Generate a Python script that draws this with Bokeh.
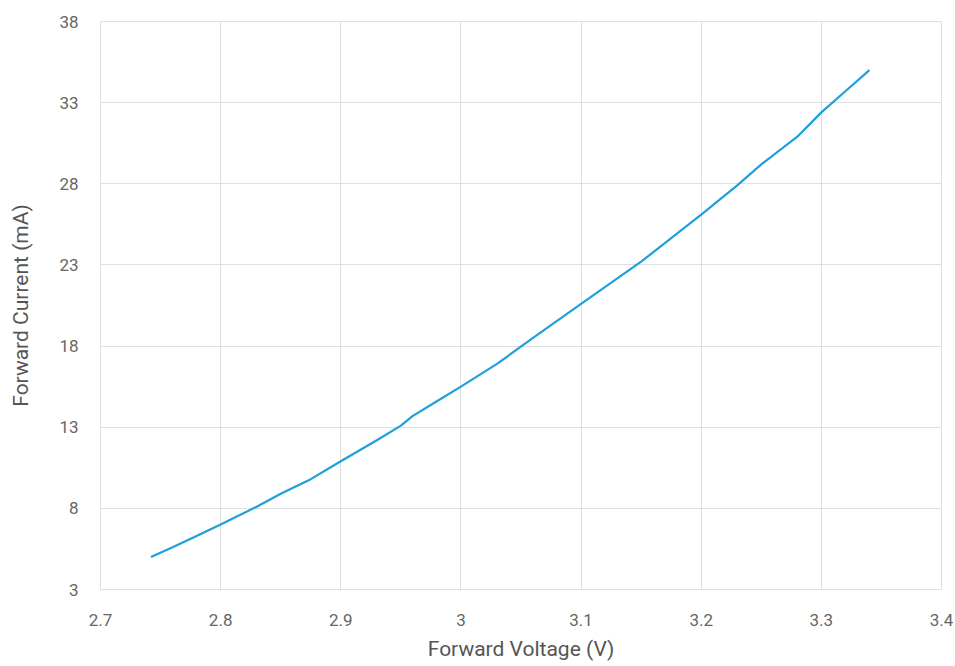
from bokeh.plotting import figure
from bokeh.models import FixedTicker, CustomJSTickFormatter, Range1d
from bokeh.embed import file_html
from bokeh.resources import INLINE

voltage = [2.742, 2.76, 2.78, 2.80, 2.83, 2.85, 2.875, 2.90, 2.93, 2.95, 2.96, 2.98,
           3.00, 3.03, 3.06, 3.10, 3.15, 3.20, 3.23, 3.25, 3.28, 3.30, 3.32, 3.34]
current = [5.0, 5.6, 6.3, 7.0, 8.1, 8.9, 9.8, 10.9, 12.2, 13.1, 13.7, 14.6,
           15.5, 16.9, 18.5, 20.6, 23.2, 26.1, 27.9, 29.2, 30.9, 32.4, 33.7, 35.0]
x_ticks = [2.7, 2.8, 2.9, 3.0, 3.1, 3.2, 3.3, 3.4]
y_ticks = [3, 8, 13, 18, 23, 28, 33, 38]

p = figure(width=953, height=666, output_backend="svg", toolbar_location=None,
           x_range=Range1d(2.7, 3.4), y_range=Range1d(3, 38),
           min_border_left=100, min_border_right=12, min_border_top=21, min_border_bottom=77)

p.line(voltage, current, line_color="#1f9fdb", line_width=2.2)

grid_col = "#dfdfdf"
p.xaxis.ticker = FixedTicker(ticks=x_ticks)
p.yaxis.ticker = FixedTicker(ticks=y_ticks)
p.xaxis.formatter = CustomJSTickFormatter(code="return String(Math.round(tick*10)/10);")
p.yaxis.formatter = CustomJSTickFormatter(code="return String(Math.round(tick));")

for ax in (p.xaxis, p.yaxis):
    ax.axis_line_color = None
    ax.major_tick_line_color = None
    ax.minor_tick_line_color = None
    ax.major_tick_out = 0
    ax.major_tick_in = 0
    ax.major_label_text_font = "Roboto"
    ax.major_label_text_font_size = "17px"
    ax.major_label_text_color = "#666666"
    ax.axis_label_text_font = "Roboto"
    ax.axis_label_text_font_size = "21px"
    ax.axis_label_text_font_style = "normal"
    ax.axis_label_text_color = "#555555"

p.xaxis.axis_label = "Forward Voltage (V)"
p.yaxis.axis_label = "Forward Current (mA)"
p.xaxis.major_label_standoff = 24
p.xaxis.axis_label_standoff = 8
p.yaxis.major_label_standoff = 22
p.yaxis.axis_label_standoff = 23

p.xgrid.grid_line_color = grid_col
p.ygrid.grid_line_color = grid_col
p.xgrid.ticker = FixedTicker(ticks=x_ticks)
p.ygrid.ticker = FixedTicker(ticks=y_ticks)
p.outline_line_color = grid_col
p.background_fill_color = "white"
p.border_fill_color = "white"

open("out.html", "w").write(file_html(p, INLINE))
